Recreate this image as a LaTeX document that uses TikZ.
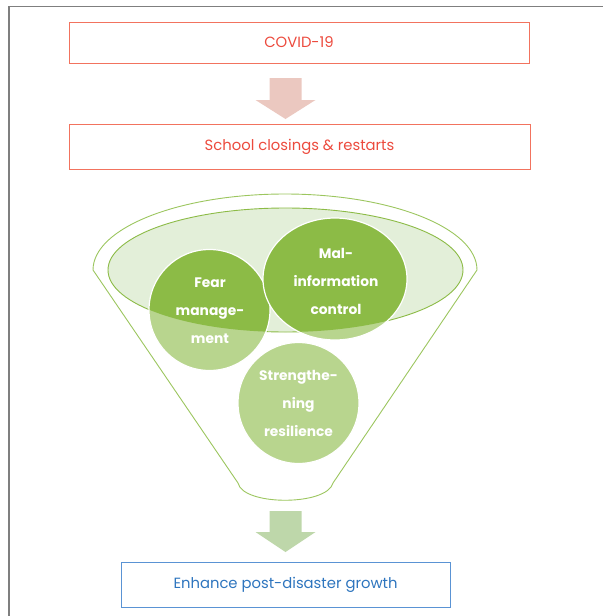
\documentclass[tikz,border=0pt]{standalone}
\usepackage{fontspec}
\setmainfont{Poppins}
\usetikzlibrary{positioning}

\definecolor{boxred}{HTML}{F2735E}
\definecolor{textred}{HTML}{EC4A3D}
\definecolor{arrowpink}{HTML}{EBC8C0}
\definecolor{darkgreen}{HTML}{8CBB46}
\definecolor{lightgreen}{HTML}{B8D58E}
\definecolor{palegreen}{HTML}{E3EFD9}
\definecolor{funnelgreen}{HTML}{9CC65F}
\definecolor{arrowgreen}{HTML}{BED7AA}
\definecolor{boxblue}{HTML}{5A93D4}
\definecolor{textblue}{HTML}{2E75BE}
\definecolor{framegray}{HTML}{7F7F7F}

\tikzset{
  redbox/.style={draw=boxred, line width=1pt, text=textred, inner sep=0pt,
    font=\fontsize{14.8}{17}\selectfont},
  bluebox/.style={draw=boxblue, line width=1pt, text=textblue, inner sep=0pt,
    font=\fontsize{14.8}{17}\selectfont},
  bubbletext/.style={text=white, align=center,
    font=\bfseries\fontsize{13.8}{28}\selectfont}
}

\begin{document}
\begin{tikzpicture}[x=1pt,y=-1pt]
\useasboundingbox (0,0) rectangle (603,616);
\draw[framegray, line width=1.5pt] (9,616) -- (9,6.7) -- (603,6.7);

\node[redbox, minimum width=460pt, minimum height=41pt] (covid) at (299,42.5) {COVID-19};
\node[redbox, minimum width=461pt, minimum height=45pt] (school) at (299.5,146.5) {School closings \& restarts};
\node[bluebox, minimum width=329pt, minimum height=45pt] (growth) at (285.5,584.5) {Enhance post-disaster growth};

% block arrows
\coordinate (a1) at (285.5,78);
\coordinate (a2) at (285.5,511);
\fill[arrowpink] (a1) ++(-16,0) -- ++(32,0) -- ++(0,22) -- ++(14,0) -- ++(-30,19) -- ++(-30,-19) -- ++(14,0) -- cycle;
\fill[arrowgreen] (a2) ++(-16,0) -- ++(32,0) -- ++(0,21) -- ++(14,0) -- ++(-30,20) -- ++(-30,-20) -- ++(14,0) -- cycle;

% funnel
\draw[funnelgreen, fill=white, line width=0.9pt] (93,270) .. controls (93,228) and (179,194) .. (285,194)
  .. controls (391,194) and (477,228) .. (477,270) -- (333,483)
  .. controls (327,506) and (243,506) .. (238,483) -- cycle;
\filldraw[fill=palegreen, draw=darkgreen, line width=0.9pt] (285.5,270) ellipse [x radius=177.5, y radius=62];

\fill[lightgreen] (209.5,310) circle [radius=60.5];
\begin{scope}
\clip (285.5,270) ellipse [x radius=177.5, y radius=62];
\fill[darkgreen] (209.5,310) circle [radius=60.5];
\end{scope}
\draw[white, line width=1.2pt] (209.5,310) circle [radius=60.5];

\fill[lightgreen] (335,279) ellipse [x radius=72, y radius=61];
\begin{scope}
\clip (285.5,270) ellipse [x radius=177.5, y radius=62];
\fill[darkgreen] (335,279) ellipse [x radius=72, y radius=61];
\end{scope}
\draw[white, line width=1.2pt] (335,279) ellipse [x radius=72, y radius=61];

\filldraw[fill=lightgreen, draw=white, line width=1.2pt] (298.5,403) circle [radius=60.5];

\node[bubbletext] (fear) at (210,311) {Fear\\manage-\\ment};
\node[bubbletext] (malinfo) at (336,281) {Mal-\\information\\control};
\node[bubbletext] (resilience) at (298.5,403) {Strengthe-\\ning\\resilience};

\end{tikzpicture}
\end{document}
